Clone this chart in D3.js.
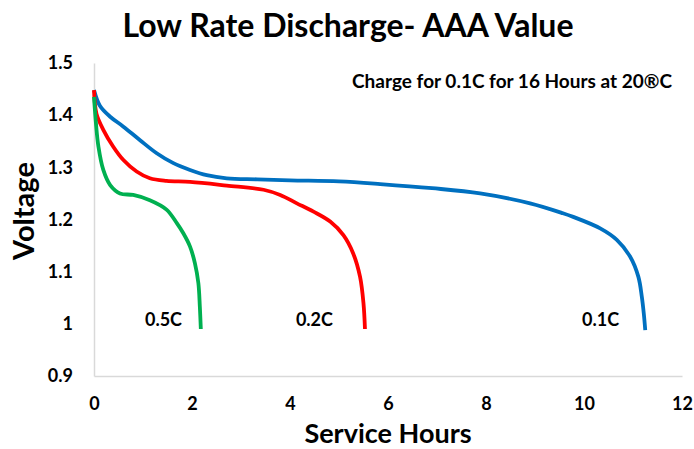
<!DOCTYPE html>
<html><head><meta charset="utf-8">
<script src="https://cdn.jsdelivr.net/npm/d3@7"></script>
<style>body{margin:0;background:#fff}svg text{font-family:Lato,"Open Sans",sans-serif;font-weight:bold;fill:#000}</style>
</head><body><svg id="c" width="694" height="449"></svg>
<script>
const xTicks = [0, 2, 4, 6, 8, 10, 12];
const yTicks = [0.9, 1, 1.1, 1.2, 1.3, 1.4, 1.5];
const seriesNames = ["0.1C", "0.2C", "0.5C"];
const hours01 = [0, 0.12, 0.33, 0.6, 0.94, 1.28, 1.62, 1.96, 2.3, 2.71, 3.33, 4, 5, 5.84, 6.9, 7.88, 8.9, 9.57, 9.78, 10.33, 10.67, 10.94, 11.11, 11.18, 11.22, 11.25];
const volts01 = [1.448, 1.418, 1.397, 1.378, 1.352, 1.327, 1.308, 1.295, 1.285, 1.279, 1.277, 1.275, 1.273, 1.268, 1.26, 1.25, 1.231, 1.212, 1.205, 1.183, 1.161, 1.129, 1.09, 1.052, 1.02, 0.988];
const hours02 = [0, 0.05, 0.19, 0.39, 0.6, 0.87, 1.14, 1.48, 1.96, 2.71, 3.46, 3.8, 4.14, 4.48, 4.82, 5.09, 5.29, 5.43, 5.5, 5.53];
const volts02 = [1.448, 1.403, 1.372, 1.34, 1.314, 1.292, 1.279, 1.274, 1.272, 1.265, 1.257, 1.247, 1.231, 1.215, 1.196, 1.17, 1.135, 1.09, 1.039, 0.99];
const hours05 = [0, 0.04, 0.09, 0.19, 0.33, 0.53, 0.8, 1.14, 1.48, 1.69, 1.82, 1.96, 2.06, 2.13, 2.16, 2.18];
const volts05 = [1.435, 1.384, 1.34, 1.295, 1.266, 1.25, 1.247, 1.237, 1.219, 1.193, 1.174, 1.148, 1.116, 1.078, 1.033, 0.99];
const colors = ["#0070C0", "#FF0000", "#00B050"];

const svg = d3.select("#c");
const x = d3.scaleLinear().domain([0, 12]).range([94, 682]);
const y = d3.scaleLinear().domain([0.9, 1.5]).range([376, 63]);

svg.append("text").attr("x", 348).attr("y", 37).attr("text-anchor", "middle").attr("font-size", 32).text("Low Rate Discharge- AAA Value");

const xAxis = svg.append("g").attr("transform", "translate(0,376)")
  .call(d3.axisBottom(x).tickValues(xTicks).tickSize(0).tickFormat(d3.format("d")));
const yAxis = svg.append("g").attr("transform", "translate(94,0)")
  .call(d3.axisLeft(y).tickValues(yTicks).tickSize(0).tickPadding(21).tickFormat(d => String(+d.toFixed(1))));
[xAxis, yAxis].forEach(a => {
  a.select(".domain").attr("stroke", "#d9d9d9").attr("stroke-width", 1.5);
  a.selectAll("text").attr("font-size", 18).attr("font-family", "Lato,'Open Sans',sans-serif").attr("font-weight", "bold").attr("fill", "#000");
});
xAxis.selectAll("text").attr("dy", null).attr("y", 34);

svg.append("text").attr("x", 388).attr("y", 443).attr("text-anchor", "middle").attr("font-size", 27).text("Service Hours");
svg.append("text").attr("transform", "translate(34,211) rotate(-90)").attr("text-anchor", "middle").attr("font-size", 29).text("Voltage");

svg.append("text").attr("x", 672).attr("y", 88).attr("text-anchor", "end").attr("font-size", 19).text("Charge for 0.1C for 16 Hours at 20®C");

const data = [
  hours01.map((h, i) => [h, volts01[i]]),
  hours02.map((h, i) => [h, volts02[i]]),
  hours05.map((h, i) => [h, volts05[i]])
];
const line = d3.line().x(d => x(d[0])).y(d => y(d[1])).curve(d3.curveCatmullRom.alpha(0.5));
data.forEach((d, i) => {
  svg.append("path").attr("d", line(d)).attr("fill", "none").attr("stroke", colors[i]).attr("stroke-width", 3.8).attr("stroke-linejoin", "round");
});

const labelX = [9.96, 4.12, 1.04];
seriesNames.forEach((n, i) => {
  svg.append("text").attr("x", x(labelX[i])).attr("y", 326).attr("font-size", 18).text(n);
});
</script></body></html>
